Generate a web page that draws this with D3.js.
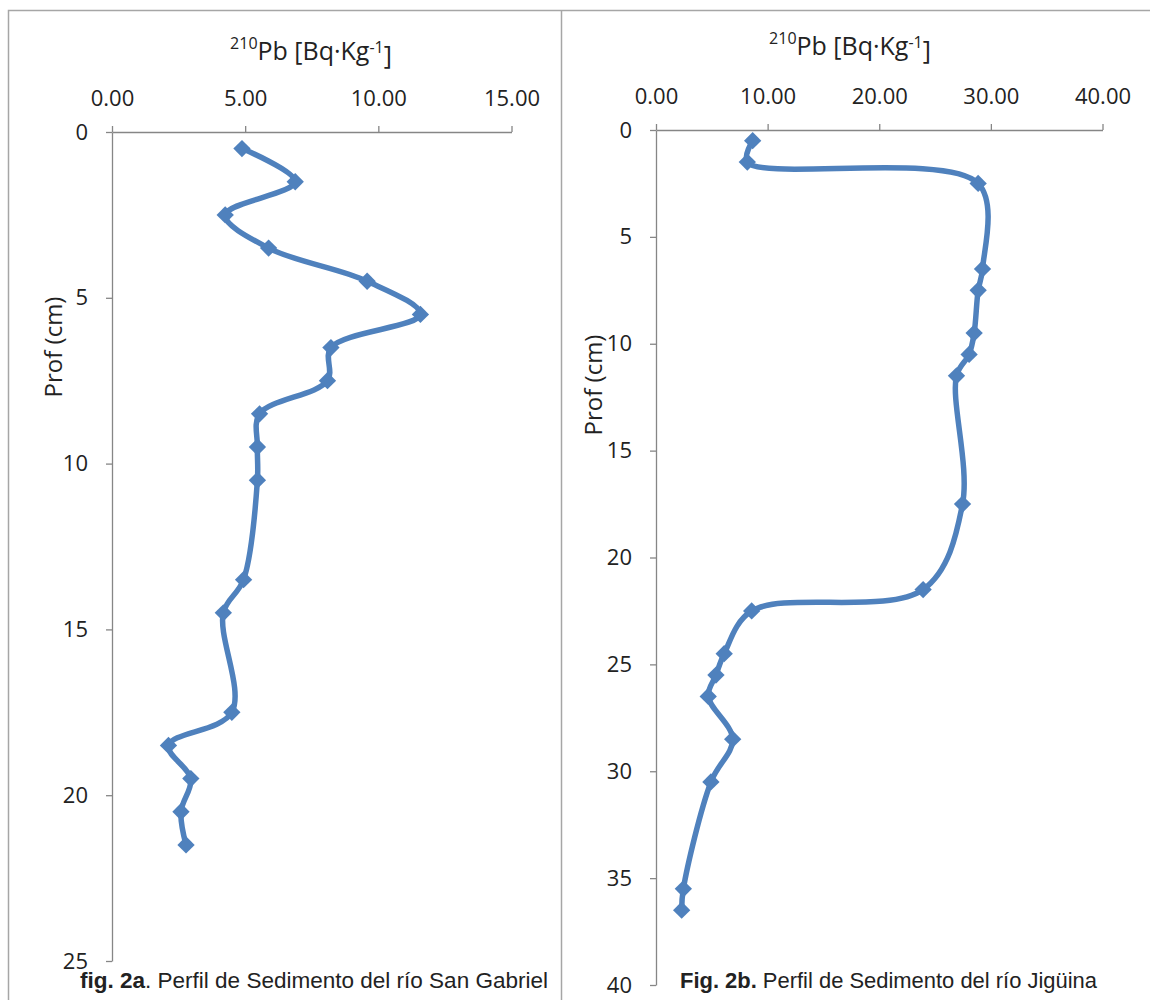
<!DOCTYPE html>
<html>
<head>
<meta charset="utf-8">
<script src="https://cdn.jsdelivr.net/npm/d3@7"></script>
<style>
  body { margin: 0; background: #fff; }
  svg text { font-family: "Open Sans", "Noto Sans", sans-serif; fill: #222; }
</style>
</head>
<body>
<div id="chart"></div>
<script>
// Fig 2a - río San Gabriel
const depthA = [0.5, 1.5, 2.5, 3.5, 4.5, 5.5, 6.5, 7.5, 8.5, 9.5, 10.5, 13.5, 14.5, 17.5, 18.5, 19.5, 20.5, 21.5];
const pbA = [4.88, 6.88, 4.25, 5.88, 9.58, 11.58, 8.22, 8.09, 5.54, 5.46, 5.46, 4.94, 4.18, 4.5, 2.12, 2.96, 2.59, 2.78];
const xTicksA = [0, 5, 10, 15];
const yTicksA = [0, 5, 10, 15, 20, 25];

// Fig 2b - río Jigüina
const depthB = [0.5, 1.5, 2.5, 6.5, 7.5, 9.5, 10.5, 11.5, 17.5, 21.5, 22.5, 24.5, 25.5, 26.5, 28.5, 30.5, 35.5, 36.5];
const pbB = [8.66, 8.18, 28.86, 29.25, 28.86, 28.5, 28.05, 26.92, 27.46, 23.93, 8.57, 6.11, 5.37, 4.68, 6.87, 4.92, 2.45, 2.3];
const xTicksB = [0, 10, 20, 30, 40];
const yTicksB = [0, 5, 10, 15, 20, 25, 30, 35, 40];

const W = 1150, H = 1000;
const blue = '#4F81BD';
const axisGray = '#868686';

const svg = d3.select('#chart').append('svg')
  .attr('width', W)
  .attr('height', H);

// outer frame + divider
svg.append('path')
  .attr('d', 'M8.5,1000 V10.5 H1150 M561.5,10.5 V1000')
  .attr('fill', 'none')
  .attr('stroke', '#a6a6a6')
  .attr('stroke-width', 1.5);

function panel(opt) {
  const x = d3.scaleLinear().domain(opt.xDomain).range([opt.left, opt.right]);
  const y = d3.scaleLinear().domain(opt.yDomain).range([opt.top, opt.bottom]);

  const g = svg.append('g');

  const xAxis = g.append('g')
    .attr('transform', `translate(0,${opt.top})`)
    .call(d3.axisTop(x).tickValues(opt.xTicks).tickFormat(d3.format('.2f')).tickSize(6).tickPadding(20).tickSizeOuter(0));

  const yAxis = g.append('g')
    .attr('transform', `translate(${opt.left},0)`)
    .call(d3.axisLeft(y).tickValues(opt.yTicks).tickSize(6).tickPadding(opt.yPad).tickSizeOuter(0));

  [xAxis, yAxis].forEach(a => {
    a.select('.domain').attr('stroke', axisGray).attr('stroke-width', 1.3);
    a.selectAll('.tick line').attr('stroke', axisGray).attr('stroke-width', 1.3);
    a.selectAll('.tick text')
      .style('font-family', '"Open Sans", "Noto Sans", sans-serif')
      .style('font-size', '22px')
      .attr('fill', '#222');
  });

  // title with superscripts
  const t = g.append('text')
    .attr('x', opt.titleX)
    .attr('y', opt.titleY)
    .attr('text-anchor', 'middle')
    .style('font-size', '25px');
  t.append('tspan').attr('dy', '-0.42em').style('font-size', '16px').text('210');
  t.append('tspan').attr('dy', '0.42em').text('Pb [Bq·Kg');
  t.append('tspan').attr('dy', '-0.42em').style('font-size', '16px').text('-1');
  t.append('tspan').attr('dy', '0.42em').text(']');

  // y title
  g.append('text')
    .attr('transform', `translate(${opt.yTitleX},${opt.yTitleY}) rotate(-90)`)
    .attr('text-anchor', 'middle')
    .style('font-size', '24px')
    .text('Prof (cm)');

  const pts = opt.depth.map((d, i) => [x(opt.pb[i]), y(d)]);

  g.append('path')
    .attr('d', d3.line().curve(d3.curveCatmullRom.alpha(0.5))(pts))
    .attr('fill', 'none')
    .attr('stroke', blue)
    .attr('stroke-width', 5.5)
    .attr('stroke-linejoin', 'round');

  g.selectAll('path.marker')
    .data(pts)
    .join('path')
    .attr('class', 'marker')
    .attr('d', d3.symbol(d3.symbolSquare, 150)())
    .attr('transform', d => `translate(${d[0]},${d[1]}) rotate(45)`)
    .attr('fill', blue);

  // caption
  const c = g.append('text')
    .attr('x', opt.capX)
    .attr('y', opt.capY)
    .attr('textLength', opt.capLen)
    .attr('lengthAdjust', 'spacingAndGlyphs')
    .style('font-family', '"Liberation Sans Narrow", "Liberation Sans", Arial, sans-serif')
    .style('font-size', '22px')
    .attr('fill', '#111');
  c.append('tspan').style('font-weight', 'bold').text(opt.capBold);
  c.append('tspan').text(opt.capRest);
}

panel({
  xDomain: [0, 15], yDomain: [0, 25],
  left: 112, right: 511.5, top: 132, bottom: 961,
  xTicks: xTicksA, yTicks: yTicksA, yPad: 18,
  depth: depthA, pb: pbA,
  titleX: 311, titleY: 56,
  yTitleX: 62, yTitleY: 347,
  capX: 80, capY: 988, capLen: 468,
  capBold: 'fig. 2a', capRest: '. Perfil de Sedimento del río San Gabriel'
});

panel({
  xDomain: [0, 40], yDomain: [0, 40],
  left: 656, right: 1102.5, top: 130, bottom: 985,
  xTicks: xTicksB, yTicks: yTicksB, yPad: 18,
  depth: depthB, pb: pbB,
  titleX: 850, titleY: 51,
  yTitleX: 602, yTitleY: 385,
  capX: 680, capY: 988, capLen: 417,
  capBold: 'Fig. 2b.', capRest: ' Perfil de Sedimento del río Jigüina'
});
</script>
</body>
</html>
